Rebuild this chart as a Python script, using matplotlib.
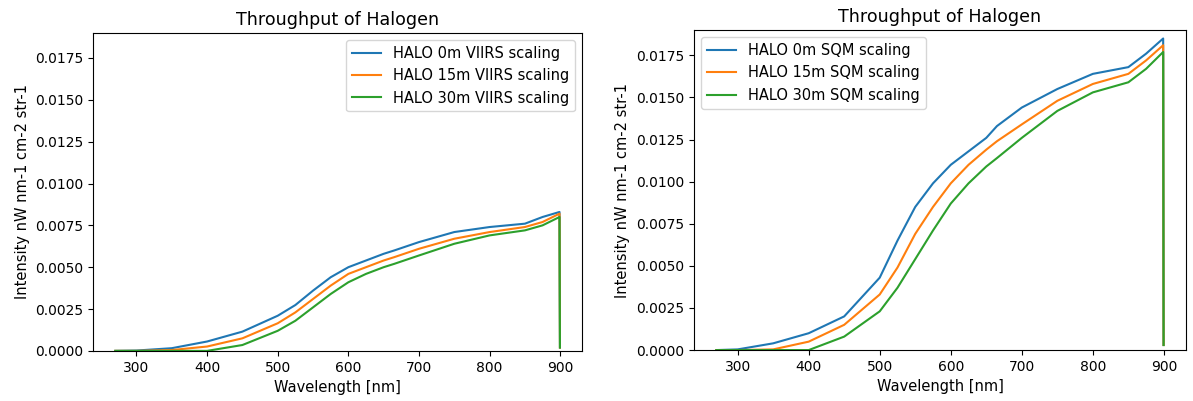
import matplotlib
matplotlib.use("Agg")
import matplotlib.pyplot as plt

# wavelength samples [nm]
wl = [270, 300, 350, 400, 450, 500, 525, 550, 575, 600, 625, 650, 665, 700,
      750, 800, 850, 875, 899, 899.6]

# VIIRS scaling (left panel)
viirs_0m = [0.0, 0.00002, 0.00016, 0.00056, 0.00115, 0.0021, 0.00274, 0.0036,
            0.0044, 0.0050, 0.0054, 0.0058, 0.0060, 0.0065, 0.0071, 0.0074,
            0.0076, 0.0080, 0.0083, 0.0002]
viirs_15m = [0.0, 0.0, 0.00005, 0.00026, 0.00075, 0.00165, 0.0023, 0.0031,
             0.0039, 0.0046, 0.0050, 0.0054, 0.0056, 0.0061, 0.0067, 0.0071,
             0.0074, 0.0077, 0.0082, 0.0002]
viirs_30m = [0.0, 0.0, 0.0, 0.0, 0.00035, 0.0012, 0.0018, 0.0026,
             0.0034, 0.0041, 0.0046, 0.0050, 0.0052, 0.0057, 0.0064, 0.0069,
             0.0072, 0.0075, 0.0080, 0.0002]

# SQM scaling (right panel)
sqm_0m = [0.0, 0.00004, 0.0004, 0.0010, 0.0020, 0.0043, 0.0065, 0.0085,
          0.0099, 0.0110, 0.0118, 0.0126, 0.0133, 0.0144, 0.0155, 0.0164,
          0.0168, 0.0176, 0.0185, 0.0003]
sqm_15m = [0.0, 0.0, 0.00004, 0.0005, 0.0015, 0.0033, 0.0049, 0.0069,
           0.0085, 0.0099, 0.0110, 0.0119, 0.0124, 0.0134, 0.0148, 0.0158,
           0.0164, 0.0172, 0.0181, 0.0003]
sqm_30m = [0.0, 0.0, 0.0, 0.0, 0.0008, 0.0023, 0.0037, 0.0054,
           0.0071, 0.0087, 0.0099, 0.0109, 0.0114, 0.0126, 0.0142, 0.0153,
           0.0159, 0.0167, 0.0177, 0.0003]

plt.rcParams['font.size'] = 10.5
plt.rcParams['xtick.labelsize'] = 10
plt.rcParams['ytick.labelsize'] = 10

fig = plt.figure(figsize=(11.93, 4.01), dpi=100)
ax1 = fig.add_axes([0.078, 0.125, 0.41, 0.793])
ax2 = fig.add_axes([0.5817, 0.127, 0.4124, 0.798])

ax1.plot(wl, viirs_0m, label="HALO 0m VIIRS scaling")
ax1.plot(wl, viirs_15m, label="HALO 15m VIIRS scaling")
ax1.plot(wl, viirs_30m, label="HALO 30m VIIRS scaling")
ax1.legend(loc="upper right")

ax2.plot(wl, sqm_0m, label="HALO 0m SQM scaling")
ax2.plot(wl, sqm_15m, label="HALO 15m SQM scaling")
ax2.plot(wl, sqm_30m, label="HALO 30m SQM scaling")
ax2.legend(loc="upper left")

for ax in (ax1, ax2):
    ax.set_title("Throughput of Halogen")
    ax.set_xlabel("Wavelength [nm]")
    ax.set_ylabel("Intensity nW nm-1 cm-2 str-1")
    ax.set_ylim(0, 0.0190)
    ax.set_xticks([300, 400, 500, 600, 700, 800, 900])

plt.savefig("out.png")
